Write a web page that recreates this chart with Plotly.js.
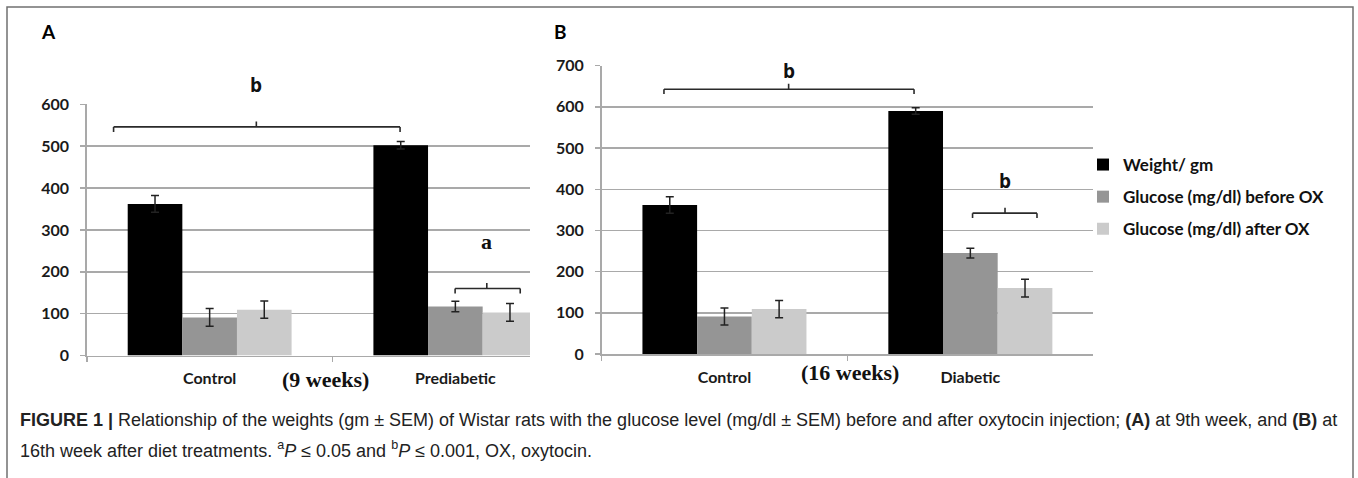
<!DOCTYPE html>
<html>
<head>
<meta charset="utf-8">
<script src="https://cdn.plot.ly/plotly-3.0.1.min.js"></script>
<style>
html,body{margin:0;padding:0;background:#ffffff;}
#chart{width:1358px;height:478px;}
</style>
</head>
<body>
<div id="chart"></div>
<script>
// ---------- data ----------
const seriesNames = ['Weight/ gm', 'Glucose (mg/dl) before OX', 'Glucose (mg/dl) after OX'];
const categoriesA = ['Control', 'Prediabetic'];
const categoriesB = ['Control', 'Diabetic'];

const weightA       = [362, 502];
const weightErrA    = [20, 9];
const beforeOxA     = [91, 117];
const beforeOxErrA  = [21, 12.5];
const afterOxA      = [109.5, 103];
const afterOxErrA   = [20.5, 21];

const weightB       = [362, 590];
const weightErrB    = [20, 8];
const beforeOxB     = [91, 245];
const beforeOxErrB  = [20.5, 12];
const afterOxB      = [109, 160];
const afterOxErrB   = [21, 21.5];

const yTicksA = [0, 100, 200, 300, 400, 500, 600];
const yTicksB = [0, 100, 200, 300, 400, 500, 600, 700];

// significance brackets (category-index x, value y)
const bracketPanel  = ['A', 'A', 'B', 'B'];
const bracketLabel  = ['b', 'a', 'b', 'b'];
const bracketX0     = [-0.391, 0.999, -0.246, 1.009];
const bracketX1     = [0.775, 1.264, 0.771, 1.271];
const bracketXMid   = [0.190, 1.128, 0.261, 1.141];
const bracketY      = [546, 160, 643, 342];
const bracketLabelY = [645, 272, 687, 420];

// ---------- styling ----------
const W = 1358, H = 478;
const px = x => x / W;
const py = y => (H - y) / H;
const colors = ['#000000', '#959595', '#cbcbcb'];
const gridCol = '#a9a9a9';
const tickFont = {family: 'Lato, "Open Sans", sans-serif', size: 16, color: '#1a1a1a', weight: 700};
const errStyle = (arr) => ({type: 'data', array: arr, visible: true, color: '#222222', thickness: 1.5, width: 4});

// pixel geometry of the two plot areas
const plotA = {left: 86.8, right: 530, bottom: 355.5, top: 104.3, yMax: 600, xRange: [-0.5, 1.3038]};
const plotB = {left: 601.5, right: 1093.3, bottom: 354, top: 65.7, yMax: 700, xRange: [-0.5, 1.5]};
const pxPerUnit = p => (p.bottom - p.top) / p.yMax;

const valsA = [weightA, beforeOxA, afterOxA];
const errsA = [weightErrA, beforeOxErrA, afterOxErrA];
const valsB = [weightB, beforeOxB, afterOxB];
const errsB = [weightErrB, beforeOxErrB, afterOxErrB];

const traces = [];
for (let i = 0; i < 3; i++) {
  traces.push({
    type: 'bar', name: seriesNames[i], x: categoriesA, y: valsA[i],
    xaxis: 'x', yaxis: 'y', marker: {color: colors[i], line: {width: 0}},
    error_y: errStyle(errsA[i]), legendgroup: 'g' + i, showlegend: true, hoverinfo: 'skip'
  });
}
for (let i = 0; i < 3; i++) {
  traces.push({
    type: 'bar', name: seriesNames[i], x: categoriesB, y: valsB[i],
    xaxis: 'x2', yaxis: 'y2', marker: {color: colors[i], line: {width: 0}},
    error_y: errStyle(errsB[i]), legendgroup: 'g' + i, showlegend: false, hoverinfo: 'skip'
  });
}

function xAxis(p, anchor) {
  return {
    domain: [px(p.left), px(p.right)], type: 'category', range: p.xRange, anchor: anchor,
    showline: true, linecolor: gridCol, linewidth: 1.5,
    ticks: 'outside', ticklen: 5, tickcolor: gridCol, tickwidth: 1.5, tickson: 'boundaries',
    showgrid: false, zeroline: false, tickfont: tickFont, ticklabelstandoff: 8, fixedrange: true
  };
}
function yAxis(p, tickvals, anchor) {
  return {
    domain: [py(p.bottom), py(p.top)], range: [0, p.yMax], tickvals: tickvals, anchor: anchor,
    showgrid: true, gridcolor: gridCol, gridwidth: 1.5,
    showline: true, linecolor: gridCol, linewidth: 1.5,
    ticks: 'outside', ticklen: 5, tickcolor: gridCol, tickwidth: 1.5,
    zeroline: false, tickfont: tickFont, ticklabelstandoff: 8, fixedrange: true
  };
}

const shapes = [];
const annotations = [];
const drop = 12, rise = 13;
for (let k = 0; k < bracketLabel.length; k++) {
  const isA = bracketPanel[k] === 'A';
  const xr = isA ? 'x' : 'x2';
  const yr = isA ? 'y' : 'y2';
  const ln = {color: '#2a2a2a', width: 1.6};
  const y = bracketY[k];
  shapes.push({type: 'line', xref: xr, yref: yr, x0: bracketX0[k], x1: bracketX1[k], y0: y, y1: y, line: ln});
  shapes.push({type: 'line', xref: xr, yref: yr, x0: bracketX0[k], x1: bracketX0[k], y0: y, y1: y - drop, line: ln});
  shapes.push({type: 'line', xref: xr, yref: yr, x0: bracketX1[k], x1: bracketX1[k], y0: y, y1: y - drop, line: ln});
  shapes.push({type: 'line', xref: xr, yref: yr, x0: bracketXMid[k], x1: bracketXMid[k], y0: y, y1: y + rise, line: ln});
  const serif = bracketLabel[k] === 'a';
  annotations.push({
    xref: xr, yref: yr, x: bracketXMid[k], y: y,
    yshift: (bracketLabelY[k] - y) * pxPerUnit(isA ? plotA : plotB),
    text: bracketLabel[k], showarrow: false,
    xanchor: 'center', yanchor: 'middle',
    font: serif ? {family: '"Liberation Serif", "DejaVu Serif", serif', size: 22, color: '#111', weight: 700}
                : {family: '"Open Sans", Lato, sans-serif', size: 19, color: '#111', weight: 700}
  });
}

// outer frame
shapes.push({type: 'rect', xref: 'paper', yref: 'paper', x0: px(7), x1: px(1353), y0: -0.05, y1: py(7),
  line: {color: '#707070', width: 1.5}, fillcolor: 'rgba(0,0,0,0)'});

// panel letters
annotations.push({xref: 'paper', yref: 'paper', x: px(48.5), y: py(31.5), text: 'A', showarrow: false,
  xanchor: 'center', yanchor: 'middle', font: {family: 'Lato, sans-serif', size: 19, color: '#000', weight: 700}});
annotations.push({xref: 'paper', yref: 'paper', x: px(560), y: py(31.5), text: 'B', showarrow: false,
  xanchor: 'center', yanchor: 'middle', font: {family: 'Lato, sans-serif', size: 19, color: '#000', weight: 700}});

// time labels
annotations.push({xref: 'paper', yref: 'paper', x: px(325), y: py(379), text: '(9 weeks)', showarrow: false,
  xanchor: 'center', yanchor: 'middle', font: {family: '"Liberation Serif", serif', size: 22, color: '#111', weight: 700}});
annotations.push({xref: 'paper', yref: 'paper', x: px(849.5), y: py(372.5), text: '(16 weeks)', showarrow: false,
  xanchor: 'center', yanchor: 'middle', font: {family: '"Liberation Serif", serif', size: 22, color: '#111', weight: 700}});

// caption
const capFont = {family: '"Liberation Sans", Arial, sans-serif', size: 18, color: '#222'};
annotations.push({xref: 'paper', yref: 'paper', x: px(18), y: py(420), xanchor: 'left', yanchor: 'middle', showarrow: false,
  text: '<b>FIGURE 1 |</b> Relationship of the weights (gm ± SEM) of Wistar rats with the glucose level (mg/dl ± SEM) before and after oxytocin injection; <b>(A)</b> at 9th week, and <b>(B)</b> at',
  font: capFont});
annotations.push({xref: 'paper', yref: 'paper', x: px(18), y: py(449), xanchor: 'left', yanchor: 'middle', showarrow: false,
  text: '16th week after diet treatments. <sup>a</sup><i>P</i> ≤ 0.05 and <sup>b</sup><i>P</i> ≤ 0.001, OX, oxytocin.',
  font: capFont});

const layout = {
  width: W, height: H,
  margin: {l: 0, r: 0, t: 0, b: 0},
  paper_bgcolor: '#ffffff', plot_bgcolor: 'rgba(0,0,0,0)',
  barmode: 'group', bargap: 0.333, bargroupgap: 0,
  xaxis:  xAxis(plotA, 'y'),
  yaxis:  yAxis(plotA, yTicksA, 'x'),
  xaxis2: xAxis(plotB, 'y2'),
  yaxis2: yAxis(plotB, yTicksB, 'x2'),
  showlegend: true,
  legend: {
    x: px(1083), y: py(147), xanchor: 'left', yanchor: 'top',
    font: {family: 'Lato, "Open Sans", sans-serif', size: 17, color: '#111', weight: 700},
    traceorder: 'grouped', tracegroupgap: 7, bgcolor: 'rgba(0,0,0,0)', borderwidth: 0, itemclick: false, itemdoubleclick: false
  },
  shapes: shapes,
  annotations: annotations
};

Plotly.newPlot('chart', traces, layout, {staticPlot: true, displayModeBar: false});
</script>
</body>
</html>
